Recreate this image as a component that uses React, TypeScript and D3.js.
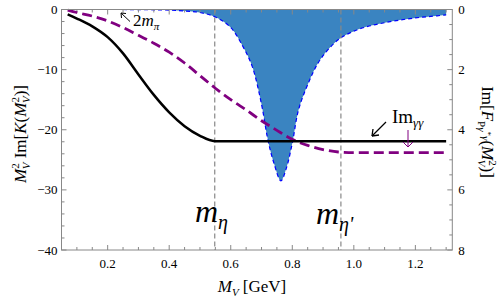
import React from "react";
import * as d3 from "d3";

// black curve: M_V^2 Im[K(M_V^2)]
const kMass = [0.07, 0.1, 0.15, 0.2, 0.25, 0.3, 0.35, 0.4, 0.45, 0.5, 0.548, 0.7, 0.9, 1.1, 1.3];
const kVal = [-0.8, -1.5, -2.8, -4.6, -7.3, -10.8, -14.2, -17.1, -19.4, -21.0, -21.9, -21.9, -21.9, -21.9, -21.9];

// purple dashed curve
const pMass = [0.07, 0.1, 0.15, 0.2, 0.25, 0.3, 0.35, 0.4, 0.45, 0.5, 0.55, 0.6, 0.65, 0.7, 0.75, 0.8, 0.85, 0.9, 0.95, 1.0, 1.15, 1.3];
const pVal = [-0.1, -0.5, -1.1, -1.9, -3.0, -4.3, -5.6, -7.1, -8.9, -11.0, -13.1, -15.0, -16.7, -18.5, -20.1, -21.6, -22.6, -23.3, -23.7, -23.8, -23.8, -23.8];

// blue filled curve (right axis): Im[F_{P gamma* gamma}]
const fMass = [0.25, 0.3, 0.35, 0.4, 0.45, 0.5, 0.55, 0.6, 0.64, 0.67, 0.7, 0.72, 0.74, 0.763, 0.78, 0.8, 0.82, 0.85, 0.89, 0.95, 1.0, 1.05, 1.1, 1.15, 1.2, 1.25, 1.3];
const fVal = [0, 0.005, 0.01, 0.02, 0.05, 0.1, 0.25, 0.6, 1.24, 1.9, 3.15, 4.3, 5.1, 5.7, 5.3, 4.45, 3.35, 2.5, 1.68, 1.0, 0.72, 0.55, 0.44, 0.35, 0.28, 0.23, 0.18];

const mEta = 0.548;
const mEtaP = 0.958;

const xTicks = [0.2, 0.4, 0.6, 0.8, 1.0, 1.2];
const leftTicks = [0, -10, -20, -30, -40];
const rightTicks = [0, 2, 4, 6, 8];

const font = "Liberation Serif, DejaVu Serif, Times New Roman, serif";

export default function App() {
  const L = 61.5, R = 452.3, T = 9.5, B = 250;
  const x = d3.scaleLinear().domain([0.05, 1.32]).range([L, R]);
  const yL = d3.scaleLinear().domain([0, -40]).range([T, B]);
  const yR = d3.scaleLinear().domain([0, 8]).range([T, B]);

  const kLine = d3.line<number>().x((d, i) => x(kMass[i])).y(d => yL(d)).curve(d3.curveMonotoneX);
  const pLine = d3.line<number>().x((d, i) => x(pMass[i])).y(d => yL(d)).curve(d3.curveMonotoneX);
  const fLine = d3.line<number>().x((d, i) => x(fMass[i])).y(d => yR(d)).curve(d3.curveCatmullRom);
  const fArea = d3.area<number>().x((d, i) => x(fMass[i])).y0(yR(0)).y1(d => yR(d)).curve(d3.curveCatmullRom);

  const xMinor = d3.range(0.1, 1.32, 0.05).filter(v => !xTicks.some(t => Math.abs(t - v) < 1e-6));
  const lMinor = d3.range(-2, -40, -2).filter(v => v % 10 !== 0);
  const rMinor = d3.range(0.5, 8, 0.5).filter(v => v % 2 !== 0);
  const frame = "#888";

  return (
    <svg width={498} height={299} style={{ position: "absolute", left: 0, top: 0, fontFamily: font }}>
      <rect width={498} height={299} fill="white" />
      {/* fill */}
      <path d={fArea(fVal) || ""} fill="#3a84c1" />
      <path d={fLine(fVal) || ""} fill="none" stroke="#0000ff" strokeWidth={1.2} strokeDasharray="4,3" />

      {/* frame ticks */}
      {xTicks.map(t => (
        <g key={"xt" + t}>
          <line x1={x(t)} x2={x(t)} y1={B} y2={B - 5} stroke={frame} />
          <line x1={x(t)} x2={x(t)} y1={T} y2={T + 5} stroke={frame} />
          <text x={x(t)} y={B + 18} fontSize={13} textAnchor="middle">{d3.format(".1f")(t)}</text>
        </g>
      ))}
      {xMinor.map(t => (
        <g key={"xm" + t}>
          <line x1={x(t)} x2={x(t)} y1={B} y2={B - 3} stroke={frame} />
          <line x1={x(t)} x2={x(t)} y1={T} y2={T + 3} stroke={frame} />
        </g>
      ))}
      {leftTicks.map(t => (
        <g key={"lt" + t}>
          <line x1={L} x2={L + 5} y1={yL(t)} y2={yL(t)} stroke={frame} />
          <text x={L - 4} y={yL(t) + 4.5} fontSize={13} textAnchor="end">{t === 0 ? "0" : "\u2212" + Math.abs(t)}</text>
        </g>
      ))}
      {lMinor.map(t => (
        <line key={"lm" + t} x1={L} x2={L + 3} y1={yL(t)} y2={yL(t)} stroke={frame} />
      ))}
      {rightTicks.map(t => (
        <g key={"rt" + t}>
          <line x1={R} x2={R - 5} y1={yR(t)} y2={yR(t)} stroke={frame} />
          <text x={R + 6} y={yR(t) + 4.5} fontSize={13} textAnchor="start">{t}</text>
        </g>
      ))}
      {rMinor.map(t => (
        <line key={"rm" + t} x1={R} x2={R - 3} y1={yR(t)} y2={yR(t)} stroke={frame} />
      ))}

      {/* vertical mass lines */}
      {[mEta, mEtaP].map(m => (
        <line key={"m" + m} x1={x(m)} x2={x(m)} y1={T} y2={B} stroke="#888" strokeWidth={1.2} strokeDasharray="5,3" />
      ))}

      <path d={pLine(pVal) || ""} fill="none" stroke="#800080" strokeWidth={2.8} strokeDasharray="10,5" />
      <path d={kLine(kVal) || ""} fill="none" stroke="black" strokeWidth={2.5} />

      <rect x={L} y={T} width={R - L} height={B - T} fill="none" stroke={frame} />

      {/* annotations */}
      <text x={195} y={222} fontSize={32} fontStyle="italic">m<tspan fontSize={20} dy={7}>η</tspan></text>
      <text x={316} y={224} fontSize={32} fontStyle="italic">m<tspan fontSize={20} dy={7}>η'</tspan></text>

      <line x1={130} y1={21.5} x2={121} y2={13} stroke="black" strokeWidth={1} />
      <path d="M121,13 l5,0.5 M121,13 l0.5,5" stroke="black" strokeWidth={1} fill="none" />
      <text x={133} y={26} fontSize={17}>2<tspan fontStyle="italic">m</tspan><tspan fontSize={11} fontStyle="italic" dy={4}>π</tspan></text>

      <line x1={386} y1={122} x2={372} y2={136} stroke="black" strokeWidth={1.3} />
      <path d="M372,136 l7,-1 M372,136 l1,-7" stroke="black" strokeWidth={1.3} fill="none" />
      <text x={392} y={123} fontSize={19}>Im<tspan fontSize={13} fontStyle="italic" dy={4}>γγ</tspan></text>

      <line x1={408} y1={130} x2={408} y2={147} stroke="#800080" strokeWidth={1} />
      <path d="M403,142 L408,147 L413,142" stroke="#800080" strokeWidth={1} fill="none" />

      {/* axis labels */}
      <text transform="translate(26,134) rotate(-90)" fontSize={17} textAnchor="middle">
        <tspan fontStyle="italic">M</tspan><tspan fontSize={11} dy={-7}>2</tspan><tspan fontSize={11} fontStyle="italic" dx={-6} dy={11}>V</tspan><tspan dy={-4}> Im[</tspan><tspan fontStyle="italic">K</tspan>(<tspan fontStyle="italic">M</tspan><tspan fontSize={11} dy={-7}>2</tspan><tspan fontSize={11} fontStyle="italic" dx={-6} dy={11}>V</tspan><tspan dy={-4}>)]</tspan>
      </text>
      <text transform="translate(482,132) rotate(90)" fontSize={17} textAnchor="middle">
        Im[<tspan fontStyle="italic">F</tspan><tspan fontSize={11} dy={4}>P</tspan><tspan fontSize={11} fontStyle="italic">γ</tspan><tspan fontSize={9} dy={-7}>*</tspan><tspan fontSize={11} fontStyle="italic" dy={3}>γ</tspan><tspan dy={0}>(</tspan><tspan fontStyle="italic" dy={0}>M</tspan><tspan fontSize={11} dy={-7}>2</tspan><tspan fontSize={11} fontStyle="italic" dx={-6} dy={11}>V</tspan><tspan dy={-4}>)]</tspan>
      </text>
      <text x={252} y={292} fontSize={17} textAnchor="middle">
        <tspan fontStyle="italic">M</tspan><tspan fontSize={11} fontStyle="italic" dy={4}>V</tspan><tspan dy={-4}> [GeV]</tspan>
      </text>
    </svg>
  );
}
